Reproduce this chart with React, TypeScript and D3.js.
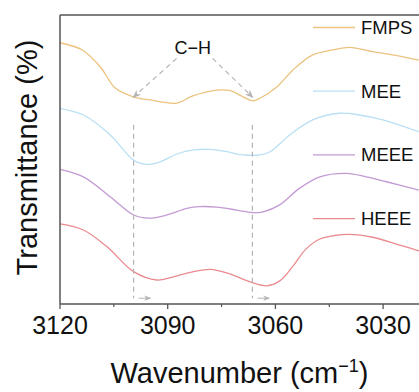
import React from 'react';
import * as d3 from 'd3';

// wavenumber (cm-1) / transmittance (a.u., stacked)
const fmpsX = [3120, 3113.8, 3108.8, 3104.6, 3099.6, 3094.9, 3087.5, 3083, 3076.3, 3072.6, 3069, 3066.4, 3064.3, 3059.7, 3055.1, 3049.6, 3044, 3039.3, 3032.9, 3027.4, 3020];
const fmpsY = [90.4, 87.9, 82.1, 74.7, 71.7, 70.6, 69.5, 72.0, 74.0, 73.8, 71.7, 70.3, 71.2, 75.0, 81.0, 86.2, 87.9, 88.8, 87.3, 86.2, 84.4];

const meeX = [3120, 3113.5, 3106, 3099.5, 3095.8, 3092.1, 3087.4, 3082.9, 3078.2, 3073.6, 3069, 3064.3, 3061.5, 3056, 3049.6, 3042.1, 3036.5, 3030.1, 3020];
const meeY = [67.6, 65.4, 58.5, 49.8, 48.3, 49.2, 51.9, 53.3, 53.5, 52.7, 51.6, 51.6, 52.7, 58.5, 63.7, 66.0, 65.4, 63.7, 59.6];

const meeeX = [3120, 3113.5, 3106, 3099.5, 3095.3, 3090.2, 3084.7, 3081, 3076.3, 3070.8, 3066.4, 3063.4, 3058.8, 3053.3, 3047.6, 3040.2, 3034.7, 3029.1, 3020];
const meeeY = [46.6, 44.0, 37.1, 30.8, 29.7, 30.8, 33.1, 33.7, 33.5, 32.5, 31.6, 31.9, 34.3, 40.0, 44.0, 45.2, 44.0, 42.3, 39.4];

const heeeX = [3120, 3113.5, 3106.9, 3099.5, 3093, 3088.4, 3082.8, 3078.2, 3073.6, 3066.4, 3062.4, 3058.8, 3055.1, 3051.5, 3047.6, 3043.5, 3039.3, 3032.9, 3025.4, 3020];
const heeeY = [27.7, 25.6, 19.8, 11.2, 8.3, 9.4, 11.2, 12.0, 10.8, 7.4, 6.3, 8.0, 13.1, 19.0, 22.5, 23.7, 24.1, 23.1, 20.4, 18.4];

const seriesNames = ['FMPS', 'MEE', 'MEEE', 'HEEE'];
const seriesColors = ['#ebc27e', '#b9e0f4', '#c39ad3', '#e98b8f'];
const majorTicks = [3120, 3090, 3060, 3030];
const minorTicks = [3105, 3075, 3045];
const markLines = [3099.5, 3066.4]; // C-H positions

const W = 419;
const H = 392;
const margin = { top: 15, right: 0, bottom: 88, left: 60 };

export default function App() {
  const x = d3.scaleLinear().domain([3120, 3020]).range([margin.left, W - margin.right]);
  const y = d3.scaleLinear().domain([0, 100]).range([H - margin.bottom, margin.top]);
  const yB = H - margin.bottom;

  const line = d3.line<[number, number]>()
    .x(d => x(d[0]))
    .y(d => y(d[1]))
    .curve(d3.curveCatmullRom.alpha(0.5));

  const data = [
    d3.zip(fmpsX, fmpsY),
    d3.zip(meeX, meeY),
    d3.zip(meeeX, meeeY),
    d3.zip(heeeX, heeeY),
  ] as [number, number][][];

  const font = 'Liberation Sans, Arial, Helvetica, sans-serif';
  const gray = '#b4b4b4';

  return (
    <svg width={W} height={H} style={{ position: 'absolute', left: 0, top: 0 }} fontFamily={font}>
      <defs>
        <marker id="ah" viewBox="0 0 10 10" refX="9" refY="5" markerWidth="7" markerHeight="7" orient="auto">
          <path d="M0,1 L10,5 L0,9 L3,5 Z" fill={gray} />
        </marker>
      </defs>

      {data.map((d, i) => (
        <path key={seriesNames[i]} d={line(d) || ''} fill="none" stroke={seriesColors[i]} strokeWidth={1.3} />
      ))}

      {/* C-H annotation */}
      <text x={x(3083)} y={y(86.5)} textAnchor="middle" fontSize={18} fill="#111">C−H</text>
      <line x1={x(3087.5)} y1={y(85)} x2={x(3099.6)} y2={y(71.5)} stroke={gray} strokeWidth={1.2} strokeDasharray="5,4" markerEnd="url(#ah)" />
      <line x1={x(3077.5)} y1={y(85)} x2={x(3066.3)} y2={y(71.5)} stroke={gray} strokeWidth={1.2} strokeDasharray="5,4" markerEnd="url(#ah)" />

      {markLines.map(m => (
        <g key={m}>
          <line x1={x(m)} x2={x(m)} y1={y(62)} y2={y(2)} stroke={gray} strokeWidth={1.2} strokeDasharray="5,4" />
          <line x1={x(m) + 5} x2={x(m) + 17} y1={y(2)} y2={y(2)} stroke={gray} strokeWidth={1} markerEnd="url(#ah)" />
        </g>
      ))}

      {/* legend */}
      {seriesNames.map((n, i) => {
        const ly = 27.5 + i * 63.7;
        return (
          <g key={n}>
            <line x1={313} x2={355} y1={ly} y2={ly} stroke={seriesColors[i]} strokeWidth={1.3} />
            <text x={361} y={ly + 6.5} fontSize={18.5} fill="#111">{n}</text>
          </g>
        );
      })}

      {/* frame */}
      <line x1={margin.left} x2={W} y1={margin.top} y2={margin.top} stroke="#555" strokeWidth={1.5} />
      <line x1={margin.left} x2={margin.left} y1={margin.top} y2={yB} stroke="#555" strokeWidth={1.5} />
      <line x1={margin.left} x2={W} y1={yB} y2={yB} stroke="#555" strokeWidth={1.5} />

      {majorTicks.map(t => (
        <g key={t}>
          <line x1={x(t)} x2={x(t)} y1={yB} y2={yB + 5} stroke="#555" strokeWidth={1.3} />
          <text x={x(t)} y={yB + 30} textAnchor="middle" fontSize={25} fill="#111">{t}</text>
        </g>
      ))}
      {minorTicks.map(t => (
        <line key={t} x1={x(t)} x2={x(t)} y1={yB} y2={yB + 3} stroke="#555" strokeWidth={1.2} />
      ))}

      <text x={(margin.left + W) / 2} y={383} textAnchor="middle" fontSize={29} fill="#111">
        Wavenumber (cm<tspan dy={-11} fontSize={18}>−1</tspan><tspan dy={11}>)</tspan>
      </text>
      <text transform={`translate(37,${(margin.top + yB) / 2 - 2}) rotate(-90)`} textAnchor="middle" fontSize={29} fill="#111">
        Transmittance (%)
      </text>
    </svg>
  );
}
